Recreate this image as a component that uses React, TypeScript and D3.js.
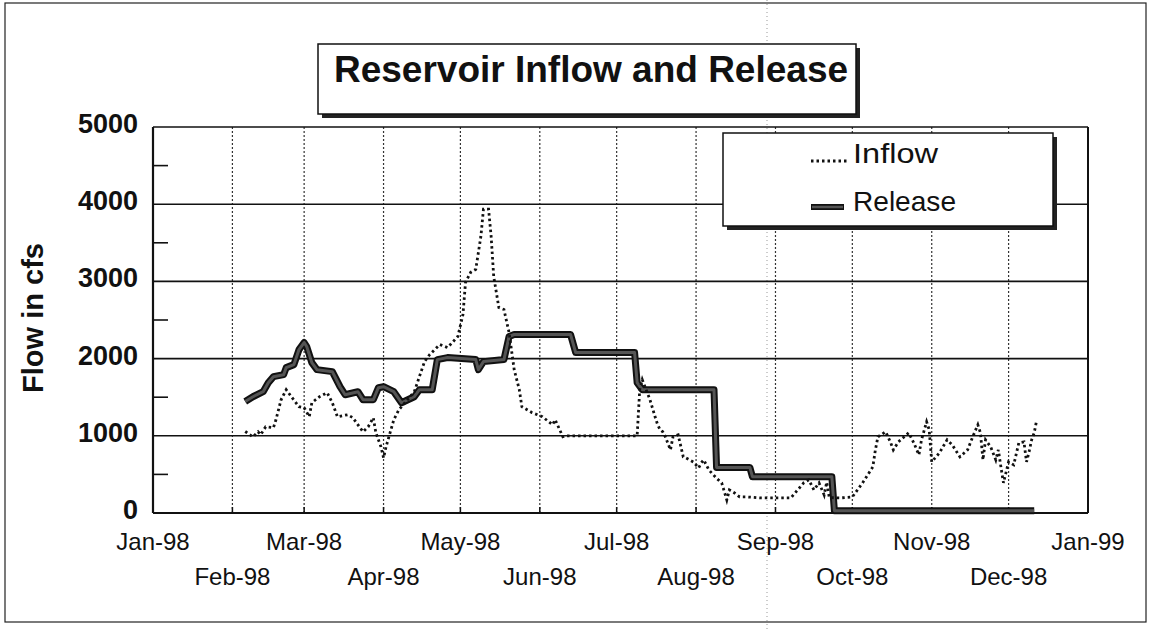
import React from "react";
import * as d3 from "d3";

const W = 1151;
const H = 629;

const TITLE = "Reservoir Inflow and Release";
const Y_LABEL = "Flow in cfs";
const SERIES_NAMES = ["Inflow", "Release"];

const yTicks = [0, 1000, 2000, 3000, 4000, 5000];
const yMinorTicks = [500, 1500, 2500, 3500, 4500];
const monthTicks = [
  "1998-01-01", "1998-02-01", "1998-03-01", "1998-04-01", "1998-05-01", "1998-06-01", "1998-07-01",
  "1998-08-01", "1998-09-01", "1998-10-01", "1998-11-01", "1998-12-01", "1999-01-01",
];
const monthLabels = [
  "Jan-98", "Feb-98", "Mar-98", "Apr-98", "May-98", "Jun-98", "Jul-98",
  "Aug-98", "Sep-98", "Oct-98", "Nov-98", "Dec-98", "Jan-99",
];

const inflow: [string, number][] = [
  ["1998-02-06", 1056], ["1998-02-09", 987], ["1998-02-11", 1052], ["1998-02-12", 1013], ["1998-02-14", 1117],
  ["1998-02-17", 1104], ["1998-02-18", 1208], ["1998-02-20", 1467], ["1998-02-22", 1597], ["1998-02-24", 1506],
  ["1998-02-27", 1377], ["1998-03-01", 1364], ["1998-03-03", 1247], ["1998-03-04", 1428], ["1998-03-07", 1506],
  ["1998-03-10", 1558], ["1998-03-12", 1428], ["1998-03-14", 1247], ["1998-03-18", 1273], ["1998-03-20", 1234],
  ["1998-03-24", 1052], ["1998-03-26", 1117], ["1998-03-28", 1234], ["1998-03-29", 1039], ["1998-03-31", 857],
  ["1998-04-01", 714], ["1998-04-02", 860], ["1998-04-05", 1208], ["1998-04-07", 1338], ["1998-04-13", 1571],
  ["1998-04-15", 1766], ["1998-04-17", 1961], ["1998-04-19", 2052], ["1998-04-23", 2182], ["1998-04-26", 2143],
  ["1998-04-30", 2286], ["1998-05-02", 2571], ["1998-05-03", 2987], ["1998-05-05", 3117], ["1998-05-07", 3156],
  ["1998-05-09", 3584], ["1998-05-10", 3935], ["1998-05-12", 3935], ["1998-05-13", 3584], ["1998-05-14", 3065],
  ["1998-05-16", 2662], ["1998-05-18", 2636], ["1998-05-20", 2338], ["1998-05-22", 1857], ["1998-05-24", 1597],
  ["1998-05-25", 1377], ["1998-05-29", 1299], ["1998-06-02", 1247], ["1998-06-06", 1143], ["1998-06-07", 1208],
  ["1998-06-10", 987], ["1998-06-11", 1000], ["1998-07-09", 1000], ["1998-07-10", 1600], ["1998-07-11", 1727],
  ["1998-07-14", 1467], ["1998-07-16", 1247], ["1998-07-17", 1143], ["1998-07-18", 1078], ["1998-07-19", 1052],
  ["1998-07-20", 987], ["1998-07-22", 818], ["1998-07-23", 987], ["1998-07-25", 1013], ["1998-07-27", 727],
  ["1998-07-28", 714], ["1998-07-31", 660], ["1998-08-02", 584], ["1998-08-03", 649], ["1998-08-04", 688],
  ["1998-08-06", 558], ["1998-08-09", 450], ["1998-08-11", 390], ["1998-08-13", 169], ["1998-08-14", 299],
  ["1998-08-16", 260], ["1998-08-18", 208], ["1998-08-21", 208], ["1998-08-26", 195], ["1998-09-02", 195],
  ["1998-09-07", 195], ["1998-09-09", 273], ["1998-09-12", 390], ["1998-09-14", 429], ["1998-09-16", 299],
  ["1998-09-18", 390], ["1998-09-20", 234], ["1998-09-21", 400], ["1998-09-22", 200], ["1998-09-26", 195],
  ["1998-10-01", 208], ["1998-10-05", 390], ["1998-10-09", 597], ["1998-10-10", 818], ["1998-10-11", 987],
  ["1998-10-14", 1052], ["1998-10-16", 909], ["1998-10-17", 818], ["1998-10-19", 922], ["1998-10-23", 1039],
  ["1998-10-25", 909], ["1998-10-27", 753], ["1998-10-28", 948], ["1998-10-30", 1182], ["1998-10-31", 1078],
  ["1998-11-01", 662], ["1998-11-04", 779], ["1998-11-07", 948], ["1998-11-09", 883], ["1998-11-12", 727],
  ["1998-11-15", 818], ["1998-11-17", 987], ["1998-11-19", 1143], ["1998-11-20", 1039], ["1998-11-21", 688],
  ["1998-11-22", 948], ["1998-11-24", 857], ["1998-11-26", 688], ["1998-11-27", 818], ["1998-11-28", 597],
  ["1998-11-29", 390], ["1998-12-01", 662], ["1998-12-03", 623], ["1998-12-05", 909], ["1998-12-07", 922],
  ["1998-12-08", 662], ["1998-12-09", 792], ["1998-12-10", 948], ["1998-12-11", 1039], ["1998-12-12", 1208],
];

const release: [string, number][] = [
  ["1998-02-06", 1445], ["1998-02-09", 1506], ["1998-02-13", 1571], ["1998-02-15", 1688], ["1998-02-17", 1766],
  ["1998-02-21", 1792], ["1998-02-22", 1883], ["1998-02-25", 1922], ["1998-02-27", 2117], ["1998-03-01", 2208],
  ["1998-03-02", 2156], ["1998-03-04", 1948], ["1998-03-06", 1857], ["1998-03-12", 1831], ["1998-03-15", 1636],
  ["1998-03-17", 1532], ["1998-03-22", 1571], ["1998-03-24", 1467], ["1998-03-28", 1467], ["1998-03-30", 1623],
  ["1998-04-01", 1636], ["1998-04-05", 1571], ["1998-04-08", 1428], ["1998-04-13", 1506], ["1998-04-15", 1597],
  ["1998-04-20", 1597], ["1998-04-22", 1987], ["1998-04-26", 2013], ["1998-05-07", 1987], ["1998-05-08", 1857],
  ["1998-05-10", 1961], ["1998-05-18", 1987], ["1998-05-20", 2286], ["1998-05-22", 2312], ["1998-06-13", 2312],
  ["1998-06-15", 2078], ["1998-07-08", 2078], ["1998-07-09", 1688], ["1998-07-11", 1597], ["1998-08-08", 1597],
  ["1998-08-09", 590], ["1998-08-22", 590], ["1998-08-23", 470], ["1998-09-23", 470], ["1998-09-24", 30],
  ["1998-12-11", 30],
];

const FONT = "'Liberation Sans', Arial, Helvetica, sans-serif";

export default function App() {
  const parse = d3.utcParse("%Y-%m-%d");
  const left = 153, right = 1088, top = 127, bottom = 513;
  const x = d3.scaleUtc().domain([parse("1998-01-01")!, parse("1999-01-01")!]).range([left, right]);
  const y = d3.scaleLinear().domain([0, 5000]).range([bottom, top]);

  const line = d3
    .line<[string, number]>()
    .x((d) => x(parse(d[0])!))
    .y((d) => y(d[1]));

  const inflowPath = line(inflow) || "";
  const releasePath = line(release) || "";

  return (
    <svg width={W} height={H} style={{ position: "absolute", left: 0, top: 0, background: "#fff" }} fontFamily={FONT}>
      <rect x={0} y={0} width={W} height={H} fill="#fff" />
      {/* outer chart border */}
      <rect x={5} y={3} width={1141} height={619} fill="none" stroke="#222" strokeWidth={1.2} />
      {/* scan artifact dotted line */}
      <line x1={767} x2={767} y1={0} y2={H} stroke="#999" strokeWidth={1} strokeDasharray="1,3" />

      {/* vertical month gridlines */}
      {monthTicks.slice(1, -1).map((m) => (
        <g key={m}>
          <line x1={x(parse(m)!)} x2={x(parse(m)!)} y1={top} y2={bottom} stroke="#333" strokeWidth={1.2} strokeDasharray="2,2" />
          <line x1={x(parse(m)!)} x2={x(parse(m)!)} y1={bottom - 6} y2={bottom} stroke="#111" strokeWidth={1.5} />
        </g>
      ))}
      {/* horizontal gridlines */}
      {yTicks.map((t) => (
        <line key={t} x1={left} x2={right} y1={y(t)} y2={y(t)} stroke="#111" strokeWidth={t === 0 ? 2.2 : 1.6} />
      ))}
      {yMinorTicks.map((t) => (
        <line key={t} x1={left} x2={left + 15} y1={y(t)} y2={y(t)} stroke="#111" strokeWidth={1.6} />
      ))}
      <line x1={left} x2={left} y1={top} y2={bottom} stroke="#111" strokeWidth={2.2} />
      <line x1={right} x2={right} y1={top} y2={bottom} stroke="#111" strokeWidth={2} />

      {/* y tick labels */}
      {yTicks.map((t) => (
        <text key={t} x={138} y={y(t) + 6} textAnchor="end" fontSize={27} fontWeight="bold" fill="#111">
          {t}
        </text>
      ))}
      <text
        transform={`translate(43,318) rotate(-90)`}
        textAnchor="middle"
        fontSize={29}
        fontWeight="bold"
        fill="#111"
      >
        {Y_LABEL}
      </text>

      {/* x tick labels, staggered */}
      {monthTicks.map((m, i) => (
        <text
          key={m}
          x={x(parse(m)!)}
          y={i % 2 === 0 ? 550 : 585}
          textAnchor="middle"
          fontSize={24}
          fill="#111"
        >
          {monthLabels[i]}
        </text>
      ))}

      {/* series */}
      <path d={releasePath} fill="none" stroke="#111" strokeWidth={7} strokeLinejoin="round" />
      <path d={releasePath} fill="none" stroke="#555" strokeWidth={3} strokeLinejoin="round" />
      <path d={inflowPath} fill="none" stroke="#111" strokeWidth={2.8} strokeDasharray="2.5,3" />

      {/* title box */}
      <rect x={322} y={48} width={538} height={70} fill="#222" />
      <rect x={318} y={44} width={538} height={70} fill="#fff" stroke="#111" strokeWidth={1.5} />
      <text x={591} y={82} textAnchor="middle" fontSize={37} fontWeight="bold" fill="#111">
        {TITLE}
      </text>

      {/* legend */}
      <rect x={727} y={137} width={330} height={93} fill="#222" />
      <rect x={723} y={133} width={330} height={93} fill="#fff" stroke="#111" strokeWidth={1.5} />
      <line x1={811} x2={849} y1={161} y2={161} stroke="#111" strokeWidth={2.8} strokeDasharray="2.5,3" />
      <text x={853} y={163} fontSize={28} fill="#111" textLength={85} lengthAdjust="spacingAndGlyphs">
        {SERIES_NAMES[0]}
      </text>
      <line x1={811} x2={844} y1={207} y2={207} stroke="#111" strokeWidth={6} />
      <line x1={812} x2={843} y1={207} y2={207} stroke="#555" strokeWidth={2.5} />
      <text x={853} y={211} fontSize={28} fill="#111" textLength={103} lengthAdjust="spacingAndGlyphs">
        {SERIES_NAMES[1]}
      </text>
    </svg>
  );
}
